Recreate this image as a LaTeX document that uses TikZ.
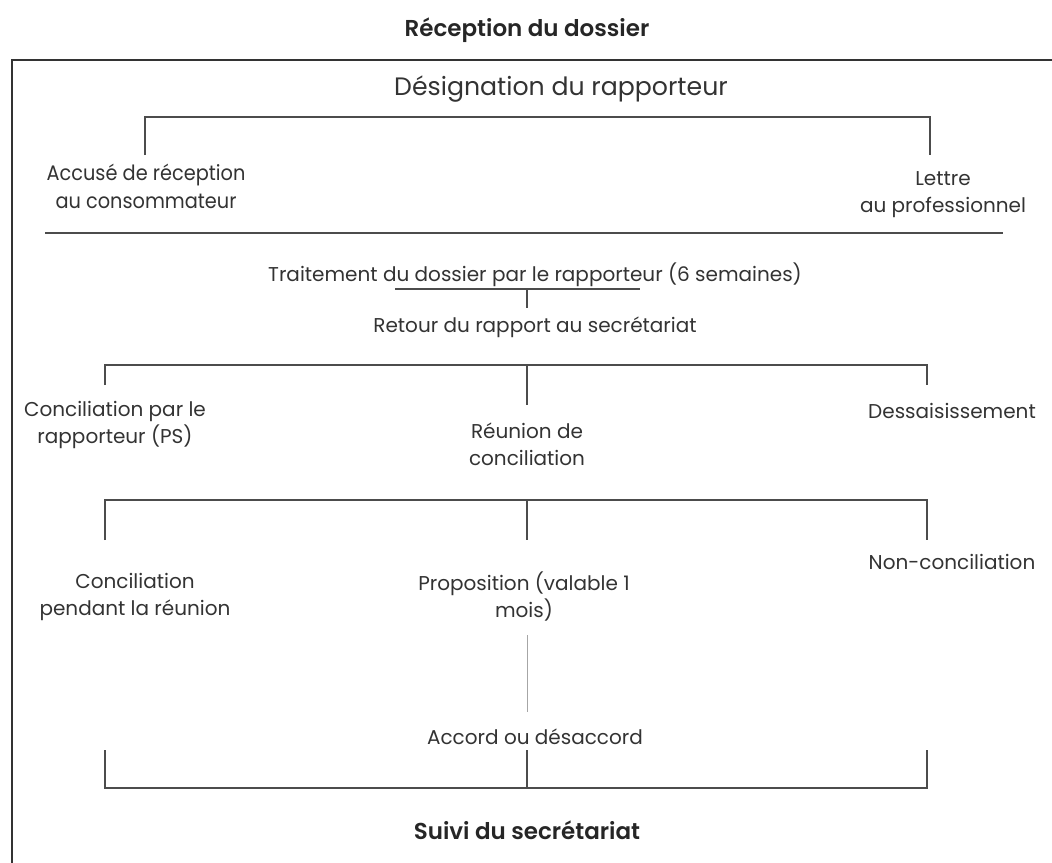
\documentclass[tikz,border=0pt]{standalone}
\usepackage{fontspec}
\setmainfont{Poppins}
\newfontfamily\condfont[FakeStretch=0.92]{Poppins}
\newfontfamily\headfont{Poppins SemiBold}
\usepackage{tikz}
\usetikzlibrary{positioning,calc}

\tikzset{
	lbl/.style={align=center, text=black!80, inner sep=1pt,
		font=\fontsize{10}{13.5}\selectfont},
	head/.style={lbl, text=black!85, font=\fontsize{11.5}{14}\headfont},
	rule/.style={draw=black!70, line width=0.8pt},
	frame/.style={draw=black!80, line width=1pt}
}

\begin{document}
\begin{tikzpicture}[x=0.5pt, y=-0.5pt]
	\useasboundingbox (0,0) rectangle (1052,862);
	\clip (0,0) rectangle (1052,862);
	\draw[frame] (12,60) rectangle (1080,890);
	% haut
	\node[head] (recep) at (527,30) {Réception du dossier};
	\node[lbl, font=\fontsize{12.6}{15}\selectfont] (desig) at (561,89) {Désignation du rapporteur};
	\node[lbl, font=\fontsize{10.5}{14}\condfont] (accuse) at (146,186) {Accusé de réception\\au consommateur};
	\node[lbl] (lettre) at (943,195) {Lettre\\au professionnel};
	\coordinate (d1) at (145,117); \coordinate (d2) at (930,117);
	\draw[rule] (145,155) -- (d1) -- (d2) -- (930,155);
	\draw[rule, line width=1pt] (45,233) -- (1003,233);
	% traitement
	\node[lbl] (trait) at (535,275) {Traitement du dossier par le rapporteur (6 semaines)};
	\node[lbl] (retour) at (535,327) {Retour du rapport au secrétariat};
	\coordinate (t1) at (395,289); \coordinate (t2) at (640,289);
	\draw[rule] (t1) -- (t2);
	\draw[rule] (527,289) -- (527,308);
	% premier partage
	\node[lbl] (parps) at (115,425) {Conciliation par le\\rapporteur (PS)};
	\node[lbl] (reunion) at (527,444) {Réunion de\\conciliation};
	\node[lbl] (dessai) at (952,411) {Dessaisissement};
	\coordinate (r1) at (105,365); \coordinate (r2) at (927,365);
	\draw[rule] (105,385) -- (r1) -- (r2) -- (927,385);
	\draw[rule] (527,365) -- (527,405);
	% second partage
	\node[lbl] (pendant) at (135,597) {Conciliation\\pendant la réunion};
	\node[lbl] (propos) at (524,597) {Proposition (valable 1\\mois)};
	\node[lbl] (nonconc) at (952,562) {Non-conciliation};
	\coordinate (s1) at (105,500); \coordinate (s2) at (927,500);
	\draw[rule] (105,540) -- (s1) -- (s2) -- (927,540);
	\draw[rule] (527,500) -- (527,540);
	\draw[black!35, line width=0.3pt] (527,635) -- (527,712);
	% accord
	\node[lbl] (accord) at (535,737) {Accord ou désaccord};
	\coordinate (a1) at (105,788); \coordinate (a2) at (927,788);
	\draw[rule] (105,750) -- (a1) -- (a2) -- (927,750);
	\draw[rule] (527,750) -- (527,788);
	\node[head] (suivi) at (527,830) {Suivi du secrétariat};
\end{tikzpicture}
\end{document}
